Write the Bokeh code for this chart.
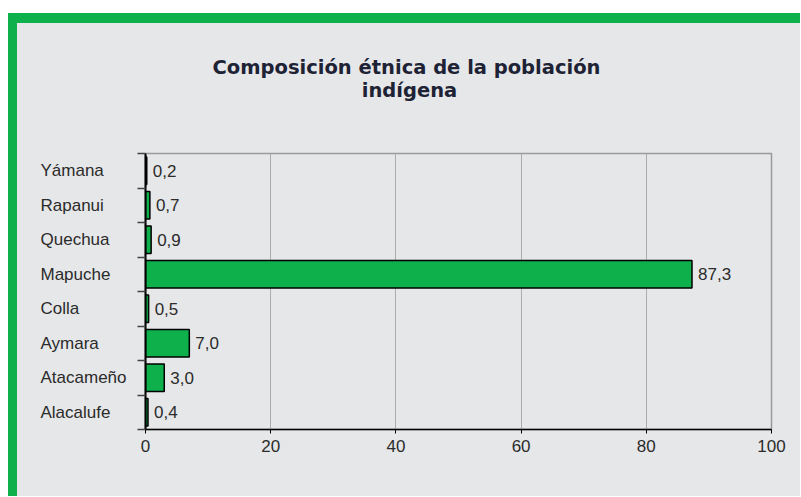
from bokeh.plotting import figure
from bokeh.models import Range1d, FixedTicker, ColumnDataSource
from bokeh.layouts import row, column
from bokeh.embed import file_html
from bokeh.resources import INLINE
from bokeh.core.properties import value

# ---- data ----
categories = ["Yámana", "Rapanui", "Quechua", "Mapuche", "Colla", "Aymara", "Atacameño", "Alacalufe"]
percentages = [0.2, 0.7, 0.9, 87.3, 0.5, 7.0, 3.0, 0.4]
x_ticks = [0, 20, 40, 60, 80, 100]
title_lines = ["Composición étnica de la población", "indígena"]

GRAY = "#e6e7e8"
GREEN = "#0db04b"
TXT = "#2b2b2b"
FONT = "Liberation Sans"

n = len(categories)
ypos = [n - i - 0.5 for i in range(n)]          # category band centres (top first)
bounds = list(range(n + 1))                     # category band boundaries
labels = [f"{v:.1f}".replace(".", ",") for v in percentages]
source = ColumnDataSource(dict(cat=categories, y=ypos, val=percentages, lbl=labels))

# ---- layout constants (px) ----
TOTAL_W = 783
TITLE_H = 125
LAB_W = 118
P_W = TOTAL_W - LAB_W
TOP, BOTTOM = 5, 67
FRAME_H = 276
ROW_H = TOP + FRAME_H + BOTTOM

y_range = Range1d(0, n)

# ---- title strip ----
tf = figure(width=TOTAL_W, height=TITLE_H, x_range=Range1d(0, TOTAL_W), y_range=Range1d(0, TITLE_H),
            output_backend="svg", toolbar_location=None,
            x_axis_location=None, y_axis_location=None,
            min_border=0, background_fill_color=None, border_fill_color=None)
tf.outline_line_color = None
for g in tf.grid:
    g.visible = False
tf.text(x=[389, 392], y=[81, 58], text=title_lines,
        text_align="center", text_baseline="alphabetic",
        text_font=value("DejaVu Sans"), text_font_size="19.5px",
        text_font_style="bold", text_color="#1e2235")

# ---- main plot ----
p = figure(width=P_W, height=ROW_H, y_range=y_range, x_range=Range1d(0, 100),
           output_backend="svg", toolbar_location=None,
           min_border_left=10, min_border_right=29, min_border_top=TOP, min_border_bottom=BOTTOM,
           background_fill_color=None, border_fill_color=None)
p.outline_line_color = "#9a9a9a"
p.outline_line_width = 1.5

p.hbar(y="y", right="val", left=0, height=0.8, source=source,
       fill_color=GREEN, line_color="black", line_width=1.5)
p.text(x="val", y="y", text="lbl", source=source, x_offset=6,
       text_align="left", text_baseline="middle",
       text_font=value(FONT), text_font_size="17px", text_color=TXT)

xa = p.xaxis[0]
xa.ticker = FixedTicker(ticks=x_ticks)
xa.axis_line_color = "black"
xa.axis_line_width = 1.5
xa.major_tick_line_color = "black"
xa.major_tick_out = 4
xa.major_tick_in = 0
xa.minor_tick_out = 0
xa.minor_tick_in = 0
xa.major_label_standoff = 6
xa.major_label_text_font = FONT
xa.major_label_text_font_size = "17px"
xa.major_label_text_color = TXT

ya = p.yaxis[0]
ya.ticker = FixedTicker(ticks=bounds)
ya.major_tick_out = 8
ya.major_tick_in = 0
ya.minor_tick_out = 0
ya.minor_tick_in = 0
ya.major_tick_line_color = "#444444"
ya.major_tick_line_width = 1.5
ya.axis_line_color = "black"
ya.axis_line_width = 2
ya.major_label_standoff = 0
ya.major_label_text_font_size = "1px"
ya.major_label_text_color = None

for g in p.grid:
    if g.dimension == 0:
        g.ticker = FixedTicker(ticks=x_ticks)
        g.grid_line_color = "#adadad"
        g.grid_line_width = 1
    else:
        g.visible = False

# ---- category labels (left aligned) ----
lab = figure(width=LAB_W, height=ROW_H, y_range=y_range, x_range=Range1d(0, LAB_W),
             output_backend="svg", toolbar_location=None,
             x_axis_location=None, y_axis_location=None,
             min_border_left=0, min_border_right=0, min_border_top=TOP, min_border_bottom=BOTTOM,
             background_fill_color=None, border_fill_color=None)
lab.outline_line_color = None
for g in lab.grid:
    g.visible = False
lab.text(x=23, y="y", text="cat", source=source,
         text_align="left", text_baseline="middle",
         text_font=value(FONT), text_font_size="17px", text_color=TXT)

inner = column(tf, row(lab, p), margin=(10, 0, 0, 9), styles={"background-color": GRAY})
outer = column(inner, styles={"background-color": GREEN}, margin=(13, 0, 0, 8))

open("out.html", "w").write(file_html(outer, INLINE))
